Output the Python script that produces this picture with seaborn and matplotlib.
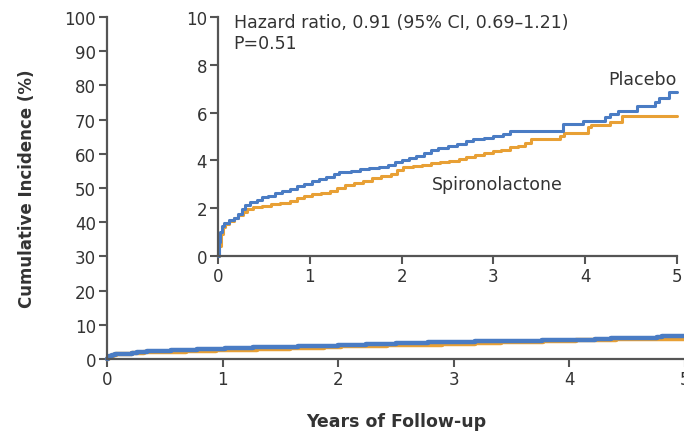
import numpy as np
import pandas as pd
import matplotlib
matplotlib.use("Agg")
import matplotlib.pyplot as plt
import seaborn as sns

# step-function readings (years, cumulative incidence %)
placebo_t = [0.00, 0.01, 0.02, 0.04, 0.07, 0.12, 0.17, 0.22, 0.26, 0.29, 0.35, 0.42,
             0.48, 0.55, 0.62, 0.70, 0.78, 0.86, 0.94, 1.02, 1.10, 1.18, 1.26, 1.32,
             1.45, 1.55, 1.65, 1.75, 1.85, 1.93, 2.00, 2.08, 2.16, 2.24, 2.32, 2.40,
             2.50, 2.60, 2.70, 2.78, 2.90, 3.00, 3.10, 3.18, 3.76, 3.98, 4.22, 4.27,
             4.36, 4.56, 4.76, 4.80, 4.91, 5.00]
placebo_y = [0.00, 0.60, 1.00, 1.25, 1.40, 1.50, 1.60, 1.75, 1.95, 2.15, 2.25, 2.35,
             2.45, 2.52, 2.62, 2.72, 2.82, 2.92, 3.02, 3.12, 3.22, 3.32, 3.45, 3.52,
             3.55, 3.62, 3.68, 3.72, 3.82, 3.92, 4.02, 4.10, 4.20, 4.30, 4.42, 4.50,
             4.60, 4.70, 4.80, 4.88, 4.92, 5.02, 5.10, 5.22, 5.52, 5.66, 5.80, 5.94,
             6.08, 6.26, 6.43, 6.61, 6.85, 6.85]
spiro_t = [0.00, 0.01, 0.03, 0.05, 0.08, 0.12, 0.17, 0.22, 0.27, 0.32, 0.38, 0.48,
           0.58, 0.68, 0.78, 0.86, 0.94, 1.02, 1.12, 1.22, 1.30, 1.38, 1.48, 1.58,
           1.68, 1.78, 1.88, 1.95, 2.02, 2.12, 2.22, 2.32, 2.42, 2.52, 2.62, 2.70,
           2.80, 2.90, 3.00, 3.08, 3.18, 3.27, 3.34, 3.41, 3.73, 3.77, 4.03, 4.06,
           4.27, 4.40, 5.00]
spiro_y = [0.00, 0.40, 0.90, 1.20, 1.35, 1.48, 1.58, 1.70, 1.85, 1.95, 2.05, 2.10,
           2.17, 2.22, 2.30, 2.42, 2.52, 2.60, 2.65, 2.72, 2.85, 2.98, 3.05, 3.15,
           3.25, 3.35, 3.45, 3.60, 3.72, 3.78, 3.82, 3.88, 3.95, 3.98, 4.05, 4.15,
           4.22, 4.30, 4.38, 4.45, 4.55, 4.62, 4.72, 4.88, 5.03, 5.16, 5.40, 5.50,
           5.62, 5.84, 5.84]

groups = ["Placebo", "Spironolactone"]
colors = {"Placebo": "#4a7cc4", "Spironolactone": "#e8a035"}

df = pd.concat([
    pd.DataFrame({"years": placebo_t, "inc": placebo_y, "group": "Placebo"}),
    pd.DataFrame({"years": spiro_t, "inc": spiro_y, "group": "Spironolactone"}),
], ignore_index=True)

sns.set_style("ticks")
plt.rcParams['font.family'] = ['DejaVu Sans']
spine_c = "#555555"
txt_c = "#333333"

fig = plt.figure(figsize=(6.84, 4.35), dpi=100)

def style_axes(ax):
    sns.despine(ax=ax)
    for s in ["left", "bottom"]:
        ax.spines[s].set_color(spine_c)
        ax.spines[s].set_linewidth(1.6)
    ax.tick_params(length=6, width=1.5, color=spine_c, labelcolor=txt_c,
                   labelsize=12, pad=2)

# main axes
ax = fig.add_axes([107 / 684, 75 / 435, 578 / 684, 342 / 435])
sns.lineplot(data=df, x="years", y="inc", hue="group", hue_order=groups[::-1],
             palette=colors, drawstyle="steps-post", linewidth=3.2,
             legend=False, ax=ax, clip_on=False)
ax.set_xlim(0, 5)
ax.set_ylim(0, 100)
ax.set_xticks(range(6))
ax.set_yticks(range(0, 101, 10))
style_axes(ax)
ax.set_xlabel("Years of Follow-up", fontsize=12.5, fontweight="bold", color=txt_c, labelpad=17)
ax.set_ylabel("Cumulative Incidence (%)", fontsize=12, fontweight="bold", color=txt_c, labelpad=20)

# inset axes
ins = fig.add_axes([218 / 684, 178 / 435, 459 / 684, 239 / 435])
sns.lineplot(data=df, x="years", y="inc", hue="group", hue_order=groups[::-1],
             palette=colors, drawstyle="steps-post", linewidth=2.2,
             legend=False, ax=ins, clip_on=False)
ins.set_xlim(0, 5)
ins.set_ylim(0, 10)
ins.set_xticks(range(6))
ins.set_yticks(range(0, 11, 2))
ins.set_xlabel("")
ins.set_ylabel("")
style_axes(ins)
ins.patch.set_alpha(0)

ins.text(0.17, 9.8, "Hazard ratio, 0.91 (95% CI, 0.69\u20131.21)", fontsize=12.5,
         color=txt_c, va="center", ha="left")
ins.text(0.17, 8.9, "P=0.51", fontsize=12.5, color=txt_c, va="center", ha="left")
ins.text(5.0, 7.4, "Placebo", fontsize=12.5, color=txt_c, va="center", ha="right")
ins.text(2.33, 3.0, "Spironolactone", fontsize=12.5, color=txt_c, va="center", ha="left")

fig.savefig("out.png", dpi=100)
